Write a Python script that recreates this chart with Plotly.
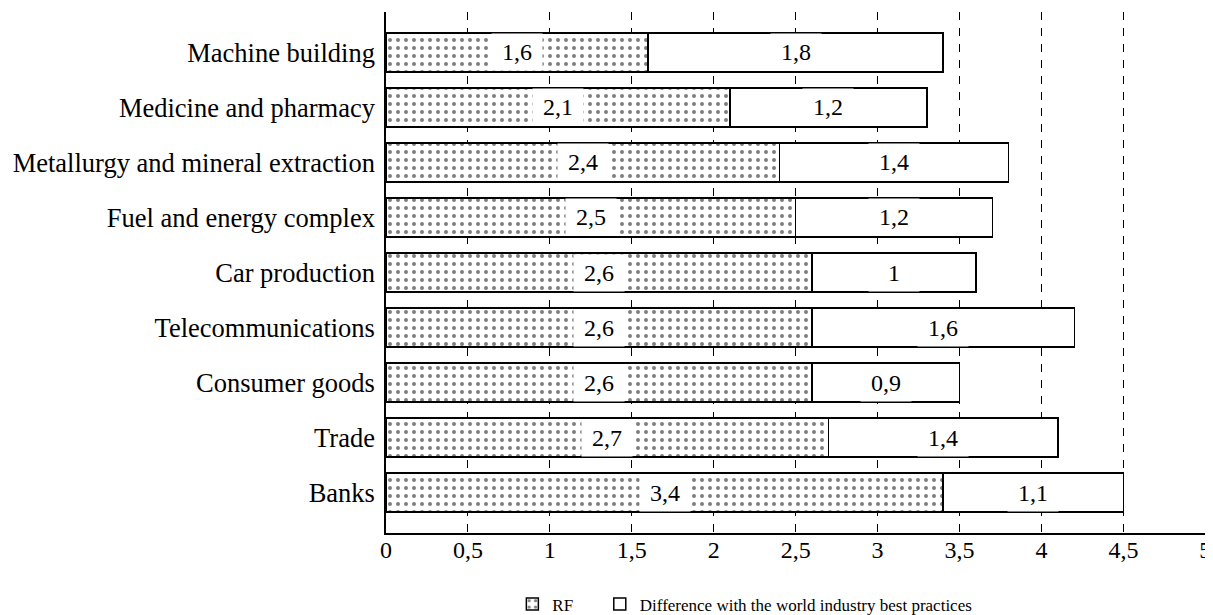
import plotly.graph_objects as go

categories = ["Banks", "Trade", "Consumer goods", "Telecommunications", "Car production",
              "Fuel and energy complex", "Metallurgy and mineral extraction",
              "Medicine and pharmacy", "Machine building"]
rf_values = [3.4, 2.7, 2.6, 2.6, 2.6, 2.5, 2.4, 2.1, 1.6]
diff_values = [1.1, 1.4, 0.9, 1.6, 1.0, 1.2, 1.4, 1.2, 1.8]
tick_vals = [0, 0.5, 1, 1.5, 2, 2.5, 3, 3.5, 4, 4.5, 5]

FONT = "Liberation Serif"


def fmt(v):
    return ("%g" % v).replace(".", ",")


fig = go.Figure()
fig.add_trace(go.Bar(
    y=categories, x=rf_values, orientation="h", name="RF", legend="legend", showlegend=True,
    marker=dict(color="white", line=dict(color="black", width=1.5),
                pattern=dict(shape=".", fgcolor="black", bgcolor="white", size=8, solidity=0.2)),
    width=0.71,
))
fig.add_trace(go.Bar(
    y=categories, x=diff_values, orientation="h", legend="legend2", showlegend=True,
    name="Difference with the world industry best practices",
    marker=dict(color="white", line=dict(color="black", width=1.5)),
    width=0.71,
))

annotations = []
for c, r, d in zip(categories, rf_values, diff_values):
    annotations.append(dict(x=r / 2, y=c, xref="x", yref="y", text=fmt(r), showarrow=False,
                            bgcolor="white", borderpad=0, width=50, height=36,
                            font=dict(family=FONT, size=24, color="black")))
    annotations.append(dict(x=r + d / 2, y=c, xref="x", yref="y", text=fmt(d), showarrow=False,
                            bgcolor="white", borderpad=0, width=50, height=36,
                            font=dict(family=FONT, size=24, color="black")))

legend_common = dict(orientation="h", xanchor="left", y=-0.137, yanchor="middle",
                     font=dict(family=FONT, size=17, color="black"), bgcolor="rgba(0,0,0,0)")

fig.update_layout(
    barmode="stack",
    showlegend=True,
    width=1205, height=623,
    margin=dict(l=378, r=1.4, t=4, b=98),
    paper_bgcolor="white", plot_bgcolor="white",
    font=dict(family=FONT, color="black"),
    annotations=annotations,
    legend=dict(x=0.1539, visible=True, **legend_common),
    legend2=dict(x=0.2604, visible=True, **legend_common),
    xaxis=dict(range=[0, 5.01], tickvals=tick_vals, ticktext=[fmt(v) for v in tick_vals],
               showgrid=True, gridcolor="black", gridwidth=1, griddash="8px,8px",
               showline=True, linecolor="black", linewidth=1.5, zeroline=False,
               ticks="", ticklabelstandoff=-6, ticklabeloverflow="allow",
               tickfont=dict(family=FONT, size=24, color="black")),
    yaxis=dict(categoryorder="array", categoryarray=categories, range=[-0.735, 8.735],
               showline=True, linecolor="black", linewidth=1.5, showgrid=False,
               ticks="", ticklabelstandoff=4,
               tickfont=dict(family=FONT, size=26.5, color="black")),
)

fig.write_html("out.html")
